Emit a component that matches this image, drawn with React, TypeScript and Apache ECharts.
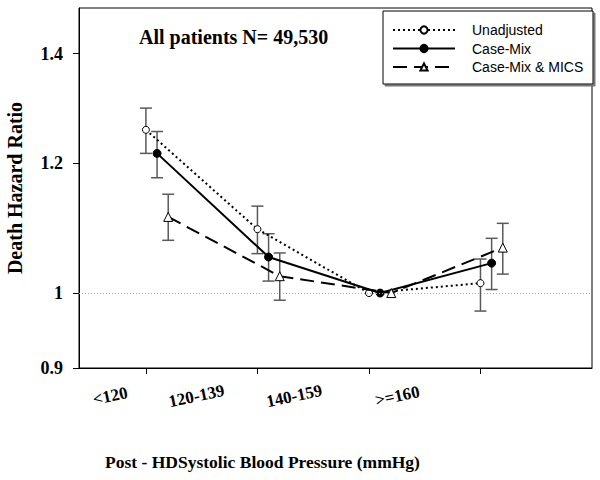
import React, { useEffect, useRef } from "react";
import * as echarts from "echarts";

const categories = ["<120", "120-139", "140-159", ">=160"];
const seriesNames = ["Unadjusted", "Case-Mix", "Case-Mix & MICS"];

const unadjusted = [1.258, 1.094, 1.0, 1.014];
const unadjustedLow = [1.217, 1.057, null, 0.975];
const unadjustedHigh = [1.297, 1.13, null, 1.049];

const caseMix = [1.217, 1.052, 1.0, 1.043];
const caseMixLow = [1.176, 1.017, null, 1.005];
const caseMixHigh = [1.255, 1.087, null, 1.08];

const caseMixMics = [1.113, 1.024, 1.0, 1.066];
const caseMixMicsLow = [1.077, 0.99, null, 1.027];
const caseMixMicsHigh = [1.149, 1.058, null, 1.103];

const yTicks = [0.9, 1, 1.2, 1.4];
const yTickLabels = ["0.9", "1", "1.2", "1.4"];
const yMin = 0.9;
const yMax = 1.493;
const referenceValue = 1;

// layout only
const seriesOffsets = [0, 0.1, 0.2];
const xLabelPositions = [-0.32, 0.454, 1.33, 2.255];

const serif = "'Liberation Serif', 'Times New Roman', serif";
const sans = "'Liberation Sans', Arial, sans-serif";

function nearestIndex(arr: number[], v: number) {
  let best = 0;
  for (let i = 1; i < arr.length; i++) {
    if (Math.abs(arr[i] - v) < Math.abs(arr[best] - v)) best = i;
  }
  return best;
}

function errorSeries(low: (number | null)[], high: (number | null)[], off: number) {
  const data: number[][] = [];
  low.forEach((l, i) => {
    const h = high[i];
    if (l != null && h != null) data.push([i + off, Math.log(l), Math.log(h)]);
  });
  return {
    type: "custom",
    silent: true,
    z: 1,
    data,
    encode: { x: 0, y: [1, 2] },
    renderItem: (_p: any, api: any) => {
      const x = api.value(0);
      const lo = api.coord([x, api.value(1)]);
      const hi = api.coord([x, api.value(2)]);
      const w = 6;
      const style = { stroke: "#5a5a5a", lineWidth: 1.5 };
      return {
        type: "group",
        children: [
          { type: "line", shape: { x1: lo[0], y1: lo[1], x2: hi[0], y2: hi[1] }, style },
          { type: "line", shape: { x1: lo[0] - w, y1: lo[1], x2: lo[0] + w, y2: lo[1] }, style },
          { type: "line", shape: { x1: hi[0] - w, y1: hi[1], x2: hi[0] + w, y2: hi[1] }, style },
        ],
      };
    },
  };
}

export default function App() {
  const ref = useRef<HTMLDivElement>(null);
  useEffect(() => {
    if (!ref.current) return;
    const chart = echarts.init(ref.current, null, { renderer: "svg" });
    const pts = (vals: number[], off: number) => vals.map((v, i) => [i + off, Math.log(v)]);
    const yLogTicks = yTicks.map((v) => Math.log(v));
    chart.setOption({
      animation: false,
      backgroundColor: "#fff",
      title: {
        text: "All patients N= 49,530",
        left: 139,
        top: 27,
        padding: 0,
        textStyle: { fontFamily: serif, fontWeight: "bold", fontSize: 20, color: "#000" },
      },
      graphic: [
        {
          type: "rect",
          z: 3,
          shape: { x: 383, y: 11, width: 210, height: 73 },
          style: {
            fill: "#fff",
            stroke: "#000",
            lineWidth: 1,
            shadowColor: "#777",
            shadowOffsetX: 2,
            shadowOffsetY: 2,
            shadowBlur: 0,
          },
        },
      ],
      legend: {
        data: seriesNames,
        orient: "vertical",
        left: 392,
        top: 23,
        padding: 0,
        z: 10,
        itemWidth: 62,
        itemHeight: 9,
        itemGap: 4.5,
        textStyle: { fontFamily: sans, fontSize: 14, color: "#000", padding: [0, 0, 0, 12] },
      },
      grid: {
        left: 79,
        top: 8,
        right: 8,
        bottom: 112,
        outerBoundsMode: "none",
        containLabel: false,
        show: true,
        borderColor: "#000",
        borderWidth: 1,
        backgroundColor: "transparent",
      },
      xAxis: {
        type: "value",
        min: -0.6,
        max: 4.0,
        name: "Post - HDSystolic Blood Pressure (mmHg)",
        nameLocation: "middle",
        nameGap: 85,
        nameTextStyle: {
          fontFamily: serif,
          fontWeight: "bold",
          fontSize: 17.5,
          color: "#000",
          padding: [0, 146, 0, 0],
        },
        axisLine: { show: true, onZero: false, lineStyle: { color: "#000", width: 1 } },
        axisTick: {
          show: true,
          length: 6,
          lineStyle: { color: "#000" },
          customValues: categories.map((_, i) => i),
        },
        axisLabel: {
          show: true,
          customValues: xLabelPositions,
          formatter: (v: number) => categories[nearestIndex(xLabelPositions, v)],
          rotate: 12,
          align: "center",
          verticalAlign: "middle",
          margin: 28,
          fontFamily: serif,
          fontWeight: "bold",
          fontSize: 17,
          color: "#000",
        },
        splitLine: { show: false },
      },
      yAxis: {
        type: "value",
        min: Math.log(yMin),
        max: Math.log(yMax),
        name: "Death Hazard Ratio",
        nameLocation: "middle",
        nameGap: 54,
        nameTextStyle: { fontFamily: serif, fontWeight: "bold", fontSize: 20, color: "#000" },
        axisLine: { show: true, onZero: false, lineStyle: { color: "#000", width: 1 } },
        axisTick: {
          show: true,
          length: 6,
          lineStyle: { color: "#000" },
          customValues: yLogTicks,
        },
        axisLabel: {
          show: true,
          customValues: yLogTicks,
          formatter: (v: number) => yTickLabels[nearestIndex(yLogTicks, v)],
          margin: 16,
          fontFamily: serif,
          fontWeight: "bold",
          fontSize: 18,
          color: "#000",
        },
        splitLine: { show: false },
      },
      series: [
        errorSeries(unadjustedLow, unadjustedHigh, seriesOffsets[0]),
        errorSeries(caseMixLow, caseMixHigh, seriesOffsets[1]),
        errorSeries(caseMixMicsLow, caseMixMicsHigh, seriesOffsets[2]),
        {
          name: seriesNames[0],
          type: "line",
          z: 3,
          data: pts(unadjusted, seriesOffsets[0]),
          symbol: "circle",
          symbolSize: 7,
          lineStyle: { color: "#000", width: 2, type: [2, 3] },
          itemStyle: { color: "#fff", borderColor: "#000", borderWidth: 1 },
          markLine: {
            silent: true,
            symbol: "none",
            label: { show: false },
            lineStyle: { color: "#aaa", width: 1, type: [1, 2] },
            data: [{ yAxis: Math.log(referenceValue) }],
          },
        },
        {
          name: seriesNames[1],
          type: "line",
          z: 4,
          data: pts(caseMix, seriesOffsets[1]),
          symbol: "circle",
          symbolSize: 8,
          lineStyle: { color: "#000", width: 2 },
          itemStyle: { color: "#000", borderColor: "#000", borderWidth: 1 },
        },
        {
          name: seriesNames[2],
          type: "line",
          z: 5,
          data: pts(caseMixMics, seriesOffsets[2]),
          symbol: "triangle",
          symbolSize: 9,
          lineStyle: { color: "#000", width: 2, type: [14, 7] },
          itemStyle: { color: "#fff", borderColor: "#000", borderWidth: 1 },
        },
      ],
    });
    return () => chart.dispose();
  }, []);
  return <div ref={ref} style={{ width: 600, height: 480, position: "absolute", left: 0, top: 0 }} />;
}
